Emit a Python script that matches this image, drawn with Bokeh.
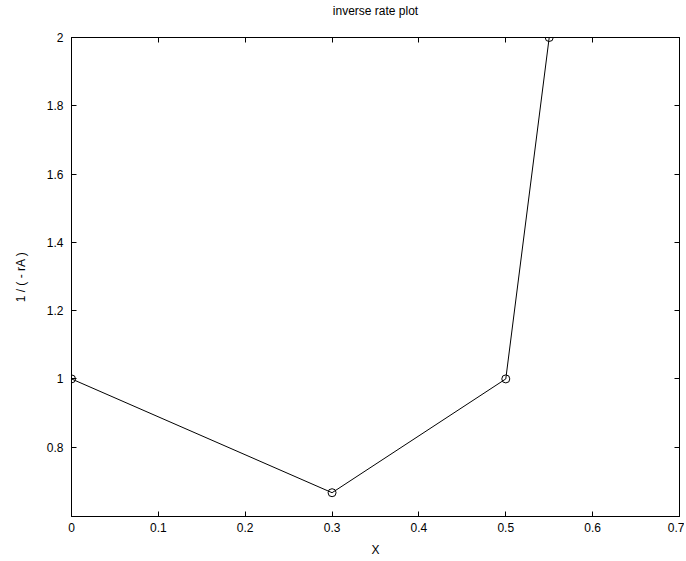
from bokeh.plotting import figure
from bokeh.models import Range1d, LinearAxis, FixedTicker
from bokeh.embed import file_html
from bokeh.resources import INLINE

x_vals = [0.0, 0.3, 0.5, 0.55]
y_vals = [1.0, 0.6667, 1.0, 2.0]
x_ticks = [0, 0.1, 0.2, 0.3, 0.4, 0.5, 0.6, 0.7]
y_ticks = [0.8, 1.0, 1.2, 1.4, 1.6, 1.8, 2.0]
x_tick_labels = {0: "0", 0.1: "0.1", 0.2: "0.2", 0.3: "0.3", 0.4: "0.4", 0.5: "0.5", 0.6: "0.6", 0.7: "0.7"}
y_tick_labels = {0.8: "0.8", 1.0: "1", 1.2: "1.2", 1.4: "1.4", 1.6: "1.6", 1.8: "1.8", 2.0: "2"}
title_text = "inverse rate plot"

FONT = "Liberation Sans"

p = figure(width=684, height=560, output_backend="svg", toolbar_location=None,
           x_range=Range1d(0, 0.7), y_range=Range1d(0.597, 2.0),
           min_border_left=71, min_border_right=5, min_border_top=37, min_border_bottom=44)

p.grid.visible = False
p.outline_line_color = "black"
p.outline_line_width = 1
p.background_fill_color = "white"
p.border_fill_color = "white"

def style_axis(ax):
    ax.major_tick_in = 5
    ax.major_tick_out = 0
    ax.minor_tick_line_color = None
    ax.axis_line_color = "black"
    ax.major_tick_line_color = "black"
    ax.major_label_text_font = FONT
    ax.major_label_text_font_size = "12px"
    ax.major_label_text_color = "black"
    ax.axis_label_text_font = FONT
    ax.axis_label_text_font_size = "12px"
    ax.axis_label_text_font_style = "normal"
    ax.axis_label_text_color = "black"

p.xaxis.ticker = FixedTicker(ticks=x_ticks)
p.xaxis.major_label_overrides = x_tick_labels
p.xaxis.axis_label = "X"
p.yaxis.ticker = FixedTicker(ticks=y_ticks)
p.yaxis.major_label_overrides = y_tick_labels
p.yaxis.axis_label = "1 / ( - rA )"
style_axis(p.xaxis[0])
style_axis(p.yaxis[0])
p.xaxis.major_label_standoff = 6
p.xaxis.axis_label_standoff = 8
p.yaxis.major_label_standoff = 8
p.yaxis.axis_label_standoff = 16

top = LinearAxis(ticker=FixedTicker(ticks=x_ticks))
style_axis(top)
top.major_label_overrides = {t: "" for t in x_ticks}
top.major_label_standoff = 0
top.axis_label = title_text
top.axis_label_standoff = 20
p.add_layout(top, "above")
right = LinearAxis(ticker=FixedTicker(ticks=y_ticks))
style_axis(right)
right.major_label_overrides = {t: "" for t in y_ticks}
right.major_label_standoff = 0
p.add_layout(right, "right")

p.line(x_vals, y_vals, line_color="black", line_width=1)
p.scatter(x_vals, y_vals, marker="circle", size=8, fill_color=None, line_color="black", line_width=1)

open("out.html", "w").write(file_html(p, INLINE))
